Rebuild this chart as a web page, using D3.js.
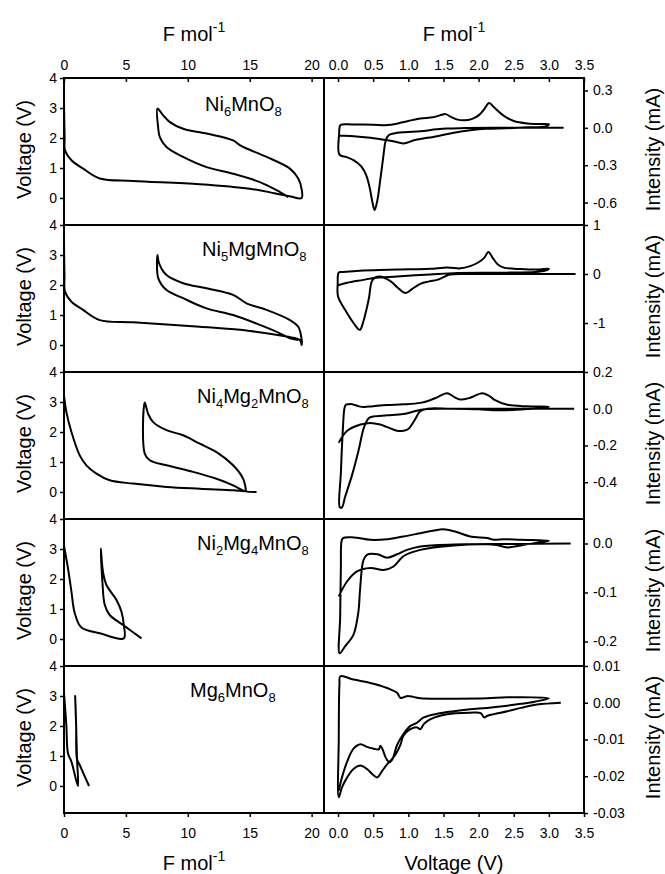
<!DOCTYPE html>
<html>
<head>
<meta charset="utf-8">
<script src="https://cdn.jsdelivr.net/npm/d3@7"></script>
<style>
  body { margin: 0; background: #fff; }
  svg text { font-family: "Liberation Sans", Arial, sans-serif; fill: #000; }
</style>
</head>
<body>
<svg id="chart" width="665" height="874"></svg>
<script>
// ---- data ---------------------------------------------------------------
const compounds = ["Ni6MnO8", "Ni5MgMnO8", "Ni4Mg2MnO8", "Ni2Mg4MnO8", "Mg6MnO8"];

const capacityTicks = [0, 5, 10, 15, 20];
const sweepVoltageTicks = [0, 0.5, 1, 1.5, 2, 2.5, 3, 3.5];
const cellVoltageTicks = [0, 1, 2, 3, 4];
const intensityTicks = [
  [0.3, 0, -0.3, -0.6],
  [1, 0, -1],
  [0.2, 0, -0.2, -0.4],
  [0, -0.1, -0.2],
  [0.01, 0, -0.01, -0.02, -0.03]
];
const intensityFormats = [".1f", "d", ".1f", ".1f", ".2f"];

// galvanostatic cycling: [F mol-1, voltage (V)]
const gcNi6MnO8 = [
  [0, 3.2], [0.05, 2.0], [0.08, 1.59], [0.6, 1.26], [1.54, 0.98], [2.89, 0.65], [5.58, 0.57],
  [10.97, 0.46], [15.0, 0.31], [17.0, 0.16], [18.3, 0.05], [19.19, 0.0],
  [19.19, 0.3], [18.92, 0.65], [18.25, 0.98], [16.36, 1.37], [14.75, 1.65], [14.2, 1.76],
  [13.66, 1.92], [11.51, 2.15], [9.62, 2.31], [8.55, 2.53], [8.0, 2.76], [7.55, 2.98],
  [7.6, 2.37], [7.74, 2.03], [8.28, 1.7], [9.62, 1.37], [11.51, 1.03], [13.66, 0.81],
  [15.82, 0.53], [17.17, 0.26], [18.11, 0.03]
];
const gcNi5MgMnO8 = [
  [0, 3.4], [0.04, 2.3], [0.08, 1.78], [0.6, 1.44], [1.54, 1.17], [2.89, 0.83], [5.58, 0.76],
  [10.97, 0.61], [15.01, 0.47], [17.98, 0.28], [19.05, 0.17], [19.2, 0.0],
  [19.15, 0.3], [18.92, 0.61], [18.25, 0.83], [16.36, 1.17], [14.74, 1.39], [13.66, 1.67],
  [11.51, 1.89], [9.62, 2.06], [8.28, 2.33], [7.68, 2.72], [7.55, 3.0],
  [7.62, 2.22], [8.28, 1.83], [9.62, 1.56], [11.5, 1.22], [13.66, 1.0], [15.82, 0.67],
  [17.44, 0.39], [18.25, 0.22], [18.9, 0.17]
];
const gcNi4Mg2MnO8 = [
  [0, 3.22], [0.19, 2.67], [0.6, 2.0], [1.27, 1.22], [1.81, 0.89], [2.62, 0.61], [3.69, 0.39],
  [5.58, 0.28], [8.28, 0.17], [10.97, 0.11], [13.66, 0.06], [14.69, 0.03],
  [14.69, 0.06], [14.47, 0.44], [13.66, 0.89], [12.32, 1.33], [10.97, 1.61], [9.62, 1.89],
  [8.28, 2.06], [7.2, 2.33], [6.8, 2.6], [6.52, 2.98],
  [6.52, 1.28], [6.93, 1.06], [8.28, 0.89], [10.43, 0.67], [12.32, 0.44], [13.66, 0.22],
  [14.6, 0.03], [15.55, 0.0]
];
const gcNi2Mg4MnO8 = [
  [0, 3.1], [0.32, 2.36], [0.6, 1.58], [0.87, 0.86], [1.41, 0.38], [2.89, 0.19], [4.83, 0.02],
  [4.83, 0.47], [4.64, 0.91], [4.24, 1.3], [3.43, 1.8], [3.15, 2.24], [2.97, 3.02],
  [3.1, 1.92], [3.29, 1.14], [3.69, 0.8], [4.77, 0.47], [6.26, 0.02]
];
const gcMg6MnO8 = [
  [0, 3.1], [0.19, 2.03], [0.32, 1.09], [0.6, 0.81], [1.13, 0.0],
  [1.05, 0.9], [0.95, 2.5], [0.9, 3.0],
  [0.98, 2.0], [1.05, 0.9], [1.27, 0.7], [2.02, 0.0]
];

// cyclic voltammetry: [voltage (V), intensity (mA)]
const cvNi6MnO8 = [
  [3.21, 0.0], [2.8, 0.0], [2.2, 0.0], [1.8, -0.002], [1.55, -0.005], [1.4, -0.012], [1.17, -0.027],
  [0.95, -0.035], [0.79, -0.046], [0.72, -0.06], [0.68, -0.1], [0.64, -0.25], [0.6, -0.42],
  [0.56, -0.58], [0.52, -0.66], [0.49, -0.6], [0.45, -0.48], [0.4, -0.38], [0.33, -0.31],
  [0.22, -0.26], [0.12, -0.235], [0.02, -0.215], [0.015, -0.05], [0.03, 0.02], [0.06, 0.027],
  [0.2, 0.027], [0.5, 0.025], [0.7, 0.022], [0.85, 0.035], [1.0, 0.055], [1.17, 0.075],
  [1.35, 0.085], [1.45, 0.1], [1.53, 0.11], [1.6, 0.09], [1.7, 0.066], [1.8, 0.06], [1.9, 0.07],
  [2.0, 0.1], [2.08, 0.15], [2.15, 0.2], [2.22, 0.165], [2.35, 0.1], [2.5, 0.055], [2.7, 0.035],
  [2.9, 0.03], [3.0, 0.028],
  [2.95, 0.012], [2.7, 0.004], [2.4, -0.003], [2.1, -0.008], [1.88, -0.02], [1.65, -0.04],
  [1.41, -0.067], [1.17, -0.09], [1.08, -0.1], [0.93, -0.125], [0.8, -0.11], [0.7, -0.1],
  [0.46, -0.08], [0.22, -0.067], [0.01, -0.062]
];
const cvNi5MgMnO8 = [
  [3.38, 0.0], [2.8, 0.0], [2.2, 0.0], [1.8, 0.0], [1.6, -0.01], [1.55, -0.03], [1.41, -0.12],
  [1.3, -0.15], [1.17, -0.2], [1.06, -0.3], [0.96, -0.39], [0.85, -0.28], [0.75, -0.15],
  [0.6, -0.05], [0.53, -0.07], [0.48, -0.15], [0.44, -0.49], [0.4, -0.75], [0.36, -0.97],
  [0.31, -1.14], [0.22, -1.0], [0.1, -0.73], [0.0, -0.46], [-0.005, -0.2], [0.01, 0.03],
  [0.07, 0.04], [0.36, 0.07], [0.84, 0.09], [1.31, 0.105], [1.5, 0.13], [1.6, 0.13],
  [1.74, 0.115], [1.88, 0.16], [2.0, 0.24], [2.08, 0.33], [2.14, 0.45], [2.2, 0.33],
  [2.27, 0.2], [2.36, 0.13], [2.6, 0.1], [2.83, 0.09], [3.0, 0.11],
  [2.95, 0.07], [2.8, 0.04], [2.5, 0.03], [2.2, 0.025], [1.7, 0.02], [1.31, -0.01],
  [0.84, -0.05], [0.51, -0.08], [0.36, -0.12], [0.13, -0.18], [0.0, -0.23]
];
const cvNi4Mg2MnO8 = [
  [3.36, 0.0], [2.5, 0.0], [2.0, 0.0], [1.5, 0.0], [1.27, -0.002], [1.12, -0.011],
  [0.93, -0.029], [0.7, -0.036], [0.5, -0.042], [0.44, -0.05], [0.37, -0.1], [0.29, -0.23],
  [0.2, -0.36], [0.1, -0.48], [0.055, -0.537], [0.025, -0.537], [0.04, -0.35], [0.07, -0.1],
  [0.09, 0.0], [0.11, 0.022], [0.15, 0.025], [0.2, 0.025], [0.3, 0.013], [0.37, 0.01],
  [0.5, 0.014], [0.7, 0.02], [0.93, 0.024], [1.17, 0.032], [1.3, 0.045], [1.41, 0.062],
  [1.55, 0.085], [1.65, 0.065], [1.74, 0.05], [1.88, 0.06], [2.05, 0.085], [2.15, 0.07],
  [2.22, 0.05], [2.41, 0.022], [2.69, 0.013], [3.0, 0.01],
  [2.9, 0.004], [2.7, -0.002], [2.4, -0.008], [2.2, -0.008], [2.0, -0.003], [1.6, 0.0],
  [1.27, 0.0], [1.17, -0.014], [1.08, -0.068], [1.0, -0.11], [0.93, -0.12], [0.84, -0.12],
  [0.7, -0.1], [0.6, -0.086], [0.46, -0.077], [0.32, -0.086], [0.13, -0.12], [0.01, -0.185]
];
const cvNi2Mg4MnO8 = [
  [3.31, 0.0], [2.5, -0.001], [1.65, -0.002], [1.17, -0.006], [0.98, -0.013], [0.84, -0.022],
  [0.7, -0.029], [0.56, -0.022], [0.41, -0.023], [0.36, -0.035], [0.34, -0.05], [0.31, -0.1],
  [0.29, -0.139], [0.22, -0.186], [0.1, -0.21], [0.023, -0.224], [0.03, -0.15], [0.04, -0.05],
  [0.05, 0.005], [0.071, 0.011], [0.22, 0.0124], [0.46, 0.0075], [0.7, 0.0088],
  [0.93, 0.0144], [1.17, 0.021], [1.35, 0.026], [1.5, 0.029], [1.65, 0.025], [1.88, 0.0144],
  [2.12, 0.011], [2.22, 0.0075], [2.36, 0.0088], [2.6, 0.0075], [3.0, 0.0055],
  [2.85, 0.002], [2.6, -0.004], [2.41, -0.008], [2.25, -0.003], [2.12, -0.0016],
  [1.65, -0.004], [1.17, -0.013], [0.93, -0.026], [0.79, -0.047], [0.65, -0.054],
  [0.46, -0.05], [0.27, -0.057], [0.13, -0.077], [0.01, -0.108]
];
const cvMg6MnO8 = [
  [3.17, 0.0], [2.83, -0.0005], [2.6, -0.0014], [2.41, -0.0023], [2.22, -0.0031],
  [2.12, -0.0036], [2.08, -0.004], [2.03, -0.0028], [1.88, -0.0027], [1.55, -0.0031],
  [1.31, -0.0045], [1.22, -0.0058], [1.17, -0.0072], [1.12, -0.0067], [1.03, -0.0072],
  [0.93, -0.009], [0.89, -0.0113], [0.82, -0.014], [0.77, -0.0153], [0.7, -0.0167],
  [0.63, -0.0185], [0.56, -0.0203], [0.51, -0.0198], [0.41, -0.018], [0.32, -0.0171],
  [0.22, -0.018], [0.13, -0.0203], [0.056, -0.023], [0.01, -0.0257],
  [0.01, -0.01], [0.02, 0.005], [0.033, 0.0072], [0.22, 0.0063], [0.46, 0.0054],
  [0.7, 0.004], [0.84, 0.0027], [0.89, 0.0013], [0.98, 0.0018], [1.07, 0.0016],
  [1.17, 0.0012], [1.65, 0.0011], [2.12, 0.0012], [2.41, 0.0015], [3.0, 0.0012],
  [2.8, 0.0003], [2.6, -0.0003], [2.41, -0.0008], [2.12, -0.0014], [1.88, -0.0018],
  [1.65, -0.0023], [1.41, -0.003], [1.22, -0.004], [1.12, -0.0055], [1.03, -0.0063],
  [0.93, -0.0085], [0.84, -0.0115], [0.77, -0.0155], [0.73, -0.0162], [0.68, -0.015],
  [0.63, -0.0125], [0.6, -0.0117], [0.58, -0.0127], [0.51, -0.0125], [0.41, -0.012],
  [0.32, -0.0113], [0.22, -0.0125], [0.13, -0.016], [0.056, -0.0203], [0.01, -0.0239]
];

const gcSeries = [gcNi6MnO8, gcNi5MgMnO8, gcNi4Mg2MnO8, gcNi2Mg4MnO8, gcMg6MnO8];
const cvSeries = [cvNi6MnO8, cvNi5MgMnO8, cvNi4Mg2MnO8, cvNi2Mg4MnO8, cvMg6MnO8];
const intensityDomains = [[-0.78, 0.4], [-2, 1], [-0.6, 0.2], [-0.25, 0.05], [-0.03, 0.01]];

// ---- layout -------------------------------------------------------------
const plotLeft = 64, plotMid = 324, plotRight = 584, plotTop = 78, panelH = 147;
const plotBottom = plotTop + panelH * compounds.length;
const labelX = [205, 202, 197, 197, 190];
const tickFont = 14, titleFont = 20;

const svg = d3.select("#chart");
const locale = d3.formatLocale({ decimal: ".", thousands: ",", grouping: [3], currency: ["", ""], minus: "-" });

const xCap = d3.scaleLinear().domain([0, 21]).range([plotLeft, plotMid]);
const xSweep = d3.scaleLinear().domain([-0.2, 3.5]).range([plotMid, plotRight]);

function styleAxis(g) {
  g.select(".domain").remove();
  g.attr("font-size", tickFont).attr("font-family", null);
  g.selectAll(".tick line").attr("stroke", "#000").attr("stroke-width", 1.5);
}

// formula text with subscripted digits
function formula(sel, text) {
  const parts = text.match(/\d+|\D+/g);
  let lowered = false;
  parts.forEach(p => {
    const isNum = /\d/.test(p);
    const t = sel.append("tspan").text(p);
    if (isNum) { t.attr("font-size", 13).attr("dy", lowered ? 0 : 5); lowered = true; }
    else { t.attr("dy", lowered ? -5 : 0); lowered = false; }
  });
}

function fMol(sel) {
  sel.append("tspan").text("F mol");
  sel.append("tspan").attr("font-size", 14).attr("dy", -9).text("-1");
}

const lineGen = (x, y) => d3.line().x(d => x(d[0])).y(d => y(d[1])).curve(d3.curveCatmullRom.alpha(0.5));

compounds.forEach((name, i) => {
  const top = plotTop + i * panelH, bottom = top + panelH;
  const yCell = d3.scaleLinear().domain([-0.9, 4]).range([bottom, top]);
  const yCur = d3.scaleLinear().domain(intensityDomains[i]).range([bottom, top]);

  // curves
  svg.append("path").datum(gcSeries[i])
    .attr("d", lineGen(xCap, yCell))
    .attr("fill", "none").attr("stroke", "#000").attr("stroke-width", 2).attr("stroke-linejoin", "round");
  svg.append("path").datum(cvSeries[i])
    .attr("d", lineGen(xSweep, yCur))
    .attr("fill", "none").attr("stroke", "#000").attr("stroke-width", 2).attr("stroke-linejoin", "round");

  // left axis (voltage)
  svg.append("g").attr("transform", `translate(${plotLeft},0)`)
    .call(d3.axisLeft(yCell).tickValues(cellVoltageTicks).tickSize(4).tickPadding(3).tickFormat(d3.format("d")))
    .call(styleAxis);

  // right axis (intensity)
  svg.append("g").attr("transform", `translate(${plotRight},0)`)
    .call(d3.axisRight(yCur).tickValues(intensityTicks[i]).tickSize(4).tickPadding(5)
      .tickFormat(locale.format(intensityFormats[i])))
    .call(styleAxis);

  // separator line at panel top
  svg.append("line").attr("x1", plotLeft).attr("x2", plotRight).attr("y1", top).attr("y2", top)
    .attr("stroke", "#000").attr("stroke-width", 2);

  // compound label
  svg.append("text").attr("x", labelX[i]).attr("y", top + (i === 0 ? 33 : 31))
    .attr("font-size", titleFont).call(formula, name);

  // axis titles
  const cy = top + panelH / 2 - 2;
  svg.append("text").attr("transform", `translate(31,${cy}) rotate(-90)`)
    .attr("text-anchor", "middle").attr("font-size", titleFont).text("Voltage (V)");
  svg.append("text").attr("transform", `translate(660,${cy}) rotate(-90)`)
    .attr("text-anchor", "middle").attr("font-size", titleFont).text("Intensity (mA)");
});

// frame
[[plotLeft, plotTop, plotLeft, plotBottom], [plotMid, plotTop, plotMid, plotBottom],
 [plotRight, plotTop, plotRight, plotBottom], [plotLeft, plotBottom, plotRight, plotBottom]]
  .forEach(([x1, y1, x2, y2]) => svg.append("line")
    .attr("x1", x1).attr("y1", y1).attr("x2", x2).attr("y2", y2)
    .attr("stroke", "#000").attr("stroke-width", 2).attr("stroke-linecap", "square"));

// top axes
svg.append("g").attr("transform", `translate(0,${plotTop})`)
  .call(d3.axisTop(xCap).tickValues(capacityTicks).tickSizeInner(-4).tickSizeOuter(0).tickPadding(8).tickFormat(d3.format("d")))
  .call(styleAxis);
svg.append("g").attr("transform", `translate(0,${plotTop})`)
  .call(d3.axisTop(xSweep).tickValues(sweepVoltageTicks).tickSizeInner(-4).tickSizeOuter(0).tickPadding(8).tickFormat(d3.format(".1f")))
  .call(styleAxis);

// bottom axes
svg.append("g").attr("transform", `translate(0,${plotBottom})`)
  .call(d3.axisBottom(xCap).tickValues(capacityTicks).tickSize(4).tickPadding(11).tickFormat(d3.format("d")))
  .call(styleAxis);
svg.append("g").attr("transform", `translate(0,${plotBottom})`)
  .call(d3.axisBottom(xSweep).tickValues(sweepVoltageTicks).tickSize(4).tickPadding(11).tickFormat(d3.format(".1f")))
  .call(styleAxis);

// titles
svg.append("text").attr("x", (plotLeft + plotMid) / 2).attr("y", 41).attr("text-anchor", "middle")
  .attr("font-size", titleFont).call(fMol);
svg.append("text").attr("x", (plotMid + plotRight) / 2).attr("y", 41).attr("text-anchor", "middle")
  .attr("font-size", titleFont).call(fMol);
svg.append("text").attr("x", (plotLeft + plotMid) / 2).attr("y", 870).attr("text-anchor", "middle")
  .attr("font-size", titleFont).call(fMol);
svg.append("text").attr("x", (plotMid + plotRight) / 2).attr("y", 870).attr("text-anchor", "middle")
  .attr("font-size", titleFont).text("Voltage (V)");
</script>
</body>
</html>
